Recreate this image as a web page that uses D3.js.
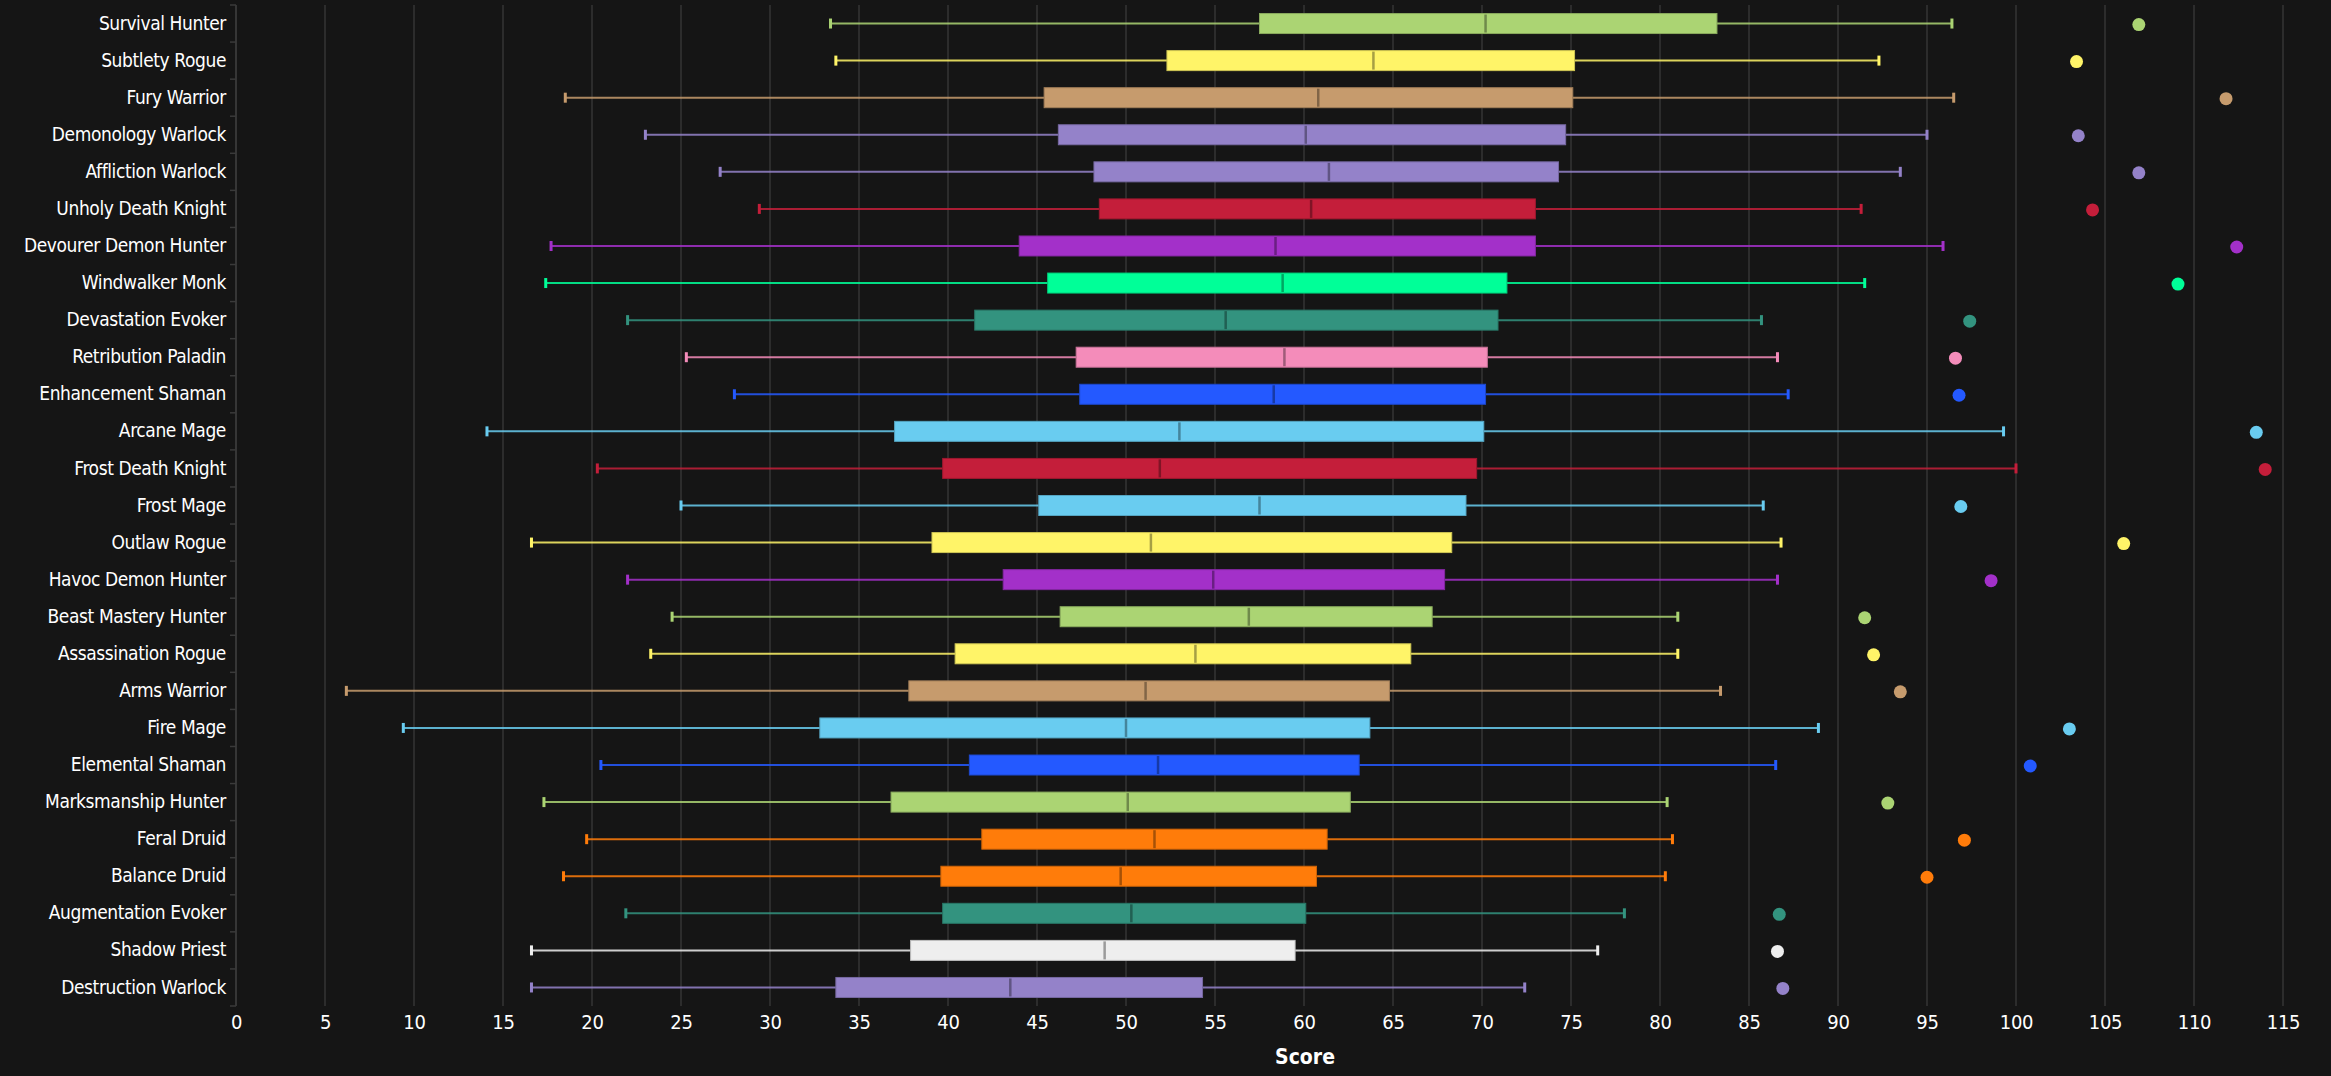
<!DOCTYPE html>
<html>
<head>
<meta charset="utf-8">
<script src="https://cdn.jsdelivr.net/npm/d3@7"></script>
<style>
  html, body { margin: 0; padding: 0; background: #151515; }
  svg { display: block; }
  .lbl { font-family: "Liberation Sans Narrow", "DejaVu Sans Condensed", "DejaVu Sans", sans-serif; font-stretch: condensed; fill: #fff; }
</style>
</head>
<body>
<script>
// spec names, top to bottom
var specs = ["Survival Hunter", "Subtlety Rogue", "Fury Warrior", "Demonology Warlock", "Affliction Warlock",
  "Unholy Death Knight", "Devourer Demon Hunter", "Windwalker Monk", "Devastation Evoker", "Retribution Paladin",
  "Enhancement Shaman", "Arcane Mage", "Frost Death Knight", "Frost Mage", "Outlaw Rogue",
  "Havoc Demon Hunter", "Beast Mastery Hunter", "Assassination Rogue", "Arms Warrior", "Fire Mage",
  "Elemental Shaman", "Marksmanship Hunter", "Feral Druid", "Balance Druid", "Augmentation Evoker",
  "Shadow Priest", "Destruction Warlock"];
var classes = ["hunter", "rogue", "warrior", "warlock", "warlock",
  "dk", "dh", "monk", "evoker", "paladin",
  "shaman", "mage", "dk", "mage", "rogue",
  "dh", "hunter", "rogue", "warrior", "mage",
  "shaman", "hunter", "druid", "druid", "evoker",
  "priest", "warlock"];
var lows    = [33.4, 33.7, 18.5, 23.0, 27.2, 29.4, 17.7, 17.4, 22.0, 25.3, 28.0, 14.1, 20.3, 25.0, 16.6, 22.0, 24.5, 23.3, 6.2, 9.4, 20.5, 17.3, 19.7, 18.4, 21.9, 16.6, 16.6];
var q1s     = [57.5, 52.3, 45.4, 46.2, 48.2, 48.5, 44.0, 45.6, 41.5, 47.2, 47.4, 37.0, 39.7, 45.1, 39.1, 43.1, 46.3, 40.4, 37.8, 32.8, 41.2, 36.8, 41.9, 39.6, 39.7, 37.9, 33.7];
var medians = [70.2, 63.9, 60.8, 60.1, 61.4, 60.4, 58.4, 58.8, 55.6, 58.9, 58.3, 53.0, 51.9, 57.5, 51.4, 54.9, 56.9, 53.9, 51.1, 50.0, 51.8, 50.1, 51.6, 49.7, 50.3, 48.8, 43.5];
var q3s     = [83.2, 75.2, 75.1, 74.7, 74.3, 73.0, 73.0, 71.4, 70.9, 70.3, 70.2, 70.1, 69.7, 69.1, 68.3, 67.9, 67.2, 66.0, 64.8, 63.7, 63.1, 62.6, 61.3, 60.7, 60.1, 59.5, 54.3];
var highs   = [96.4, 92.3, 96.5, 95.0, 93.5, 91.3, 95.9, 91.5, 85.7, 86.6, 87.2, 99.3, 100.0, 85.8, 86.8, 86.6, 81.0, 81.0, 83.4, 88.9, 86.5, 80.4, 80.7, 80.3, 78.0, 76.5, 72.4];
var outliers = [106.9, 103.4, 111.8, 103.5, 106.9, 104.3, 112.4, 109.1, 97.4, 96.6, 96.8, 113.5, 114.0, 96.9, 106.05, 98.6, 91.5, 92.0, 93.5, 103.0, 100.8, 92.8, 97.1, 95.0, 86.7, 86.6, 86.9];
var xTicks = d3.range(0, 116, 5);

var classColors = {
  hunter: "#ABD473", rogue: "#FFF468", warrior: "#C69B6D", warlock: "#9482C9",
  dk: "#C41E3A", dh: "#A330C9", monk: "#00FF98", evoker: "#33937F",
  paladin: "#F48CBA", shaman: "#2459FF", mage: "#69CCF0", druid: "#FF7C0A", priest: "#EEEEEE"
};

var W = 2331, H = 1076;
var mLeft = 236, mRight = 2283, mTop = 5, mBottom = 1006;

var svg = d3.select("body").append("svg").attr("width", W).attr("height", H);

var x = d3.scaleLinear().domain([0, 115]).range([mLeft, mRight]);
var y = d3.scaleBand().domain(specs).range([mTop, mBottom]).padding(0);

// grid
svg.append("g").selectAll("line").data(xTicks).join("line")
  .attr("x1", d => x(d)).attr("x2", d => x(d))
  .attr("y1", mTop).attr("y2", mBottom)
  .attr("stroke", "#343434").attr("stroke-width", 1.5);

// y axis line and boundary ticks
svg.append("line").attr("x1", mLeft).attr("x2", mLeft).attr("y1", mTop).attr("y2", mBottom)
  .attr("stroke", "#3a3a3a").attr("stroke-width", 1.5);
var bounds = specs.map(s => y(s)).concat([mBottom]);
svg.append("g").selectAll("line").data(bounds).join("line")
  .attr("x1", mLeft - 6).attr("x2", mLeft).attr("y1", d => d).attr("y2", d => d)
  .attr("stroke", "#3a3a3a").attr("stroke-width", 1.5);

// y labels
var yAxis = svg.append("g").attr("transform", "translate(" + mLeft + ",0)")
  .call(d3.axisLeft(y).tickSize(0).tickPadding(10));
yAxis.select(".domain").remove();
yAxis.selectAll("text").attr("class", "lbl").attr("font-size", 19).attr("letter-spacing", "-0.4px");

// x labels
var xAxis = svg.append("g").attr("transform", "translate(0," + mBottom + ")")
  .call(d3.axisBottom(x).tickValues(xTicks).tickSize(0).tickPadding(9));
xAxis.select(".domain").remove();
xAxis.selectAll("text").attr("class", "lbl").attr("font-size", 20).attr("letter-spacing", "-0.3px");

svg.append("text").attr("class", "lbl").attr("x", 1305).attr("y", 1064)
  .attr("text-anchor", "middle").attr("font-size", 21).attr("font-weight", "bold").text("Score");

// boxes
var rows = specs.map((s, i) => ({
  name: s, c: classColors[classes[i]], lo: lows[i], q1: q1s[i], med: medians[i], q3: q3s[i], hi: highs[i], out: outliers[i]
}));
var bh = 20, capH = 10;

var g = svg.append("g").selectAll("g").data(rows).join("g")
  .attr("transform", d => "translate(0," + (y(d.name) + y.bandwidth() / 2) + ")");

g.append("line").attr("x1", d => x(d.lo)).attr("x2", d => x(d.q1)).attr("y1", 0).attr("y2", 0)
  .attr("stroke", d => d.c).attr("stroke-width", 2).attr("stroke-opacity", 0.85);
g.append("line").attr("x1", d => x(d.q3)).attr("x2", d => x(d.hi)).attr("y1", 0).attr("y2", 0)
  .attr("stroke", d => d.c).attr("stroke-width", 2).attr("stroke-opacity", 0.85);
g.append("rect").attr("x", d => x(d.lo) - 1.5).attr("y", -capH / 2).attr("width", 3).attr("height", capH)
  .attr("fill", d => d.c);
g.append("rect").attr("x", d => x(d.hi) - 1.5).attr("y", -capH / 2).attr("width", 3).attr("height", capH)
  .attr("fill", d => d.c);

g.append("rect").attr("x", d => x(d.q1)).attr("y", -bh / 2)
  .attr("width", d => x(d.q3) - x(d.q1)).attr("height", bh)
  .attr("fill", d => d.c)
  .attr("stroke", d => d3.color(d.c).darker(0.6)).attr("stroke-width", 1);
g.append("line").attr("x1", d => x(d.med)).attr("x2", d => x(d.med)).attr("y1", -bh / 2 + 1).attr("y2", bh / 2 - 1)
  .attr("stroke", d => d3.color(d.c).darker(1.2)).attr("stroke-width", 2.5);

g.append("circle").attr("cx", d => x(d.out)).attr("cy", 1).attr("r", 6.5)
  .attr("fill", d => d.c);
</script>
</body>
</html>
